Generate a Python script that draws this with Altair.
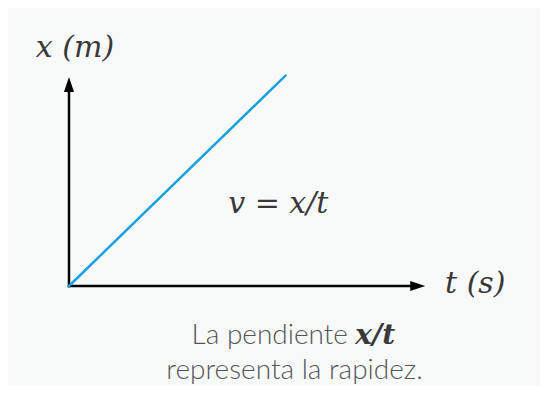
import altair as alt
import pandas as pd

# ---- data (abstract diagram units) ----
line_t = [0.0, 6.0]
line_x = [0.0, 6.0]

axis_t = [0.0, 0.0]
axis_x = [0.0, 0.0]
axis_t2 = [0.0, 9.6]
axis_x2 = [5.7, 0.0]

arrow_up_t = [0.0]
arrow_up_x = [5.96]
arrow_right_t = [9.87]
arrow_right_x = [0.0]

label_text = ["x (m)", "v = x/t", "t (s)"]
label_t = [-0.92, 4.41, 10.42]
label_x = [6.53, 2.08, -0.2]

cap1a_text = ["La pendiente"]
cap1a_t = [7.73]
cap1a_x = [-1.66]
cap1b_text = ["x/t"]
cap1b_t = [7.93]
cap1b_x = [-1.66]
cap2_text = ["representa la rapidez."]
cap2_t = [6.25]
cap2_x = [-2.66]

T_DOMAIN = [-1.69, 13.05]
X_DOMAIN = [-2.85, 7.925]

MATH_FONT = "DejaVu Serif"
SANS_FONT = "Lato"

xs = alt.Scale(domain=T_DOMAIN, nice=False, zero=False)
ys = alt.Scale(domain=X_DOMAIN, nice=False, zero=False)


def X(f="t"):
    return alt.X(f"{f}:Q", scale=xs, axis=None)


def Y(f="x"):
    return alt.Y(f"{f}:Q", scale=ys, axis=None)


line_df = pd.DataFrame({"t": line_t, "x": line_x})
axes_df = pd.DataFrame({"t": axis_t, "x": axis_x, "t2": axis_t2, "x2": axis_x2})
up_df = pd.DataFrame({"t": arrow_up_t, "x": arrow_up_x})
right_df = pd.DataFrame({"t": arrow_right_t, "x": arrow_right_x})
lab_df = pd.DataFrame({"t": label_t, "x": label_x, "label": label_text})
c1a_df = pd.DataFrame({"t": cap1a_t, "x": cap1a_x, "label": cap1a_text})
c1b_df = pd.DataFrame({"t": cap1b_t, "x": cap1b_x, "label": cap1b_text})
c2_df = pd.DataFrame({"t": cap2_t, "x": cap2_x, "label": cap2_text})

axes = alt.Chart(axes_df).mark_rule(color="#000000", strokeWidth=2.5, strokeCap="square").encode(
    x=X(), y=Y(), x2="t2:Q", y2="x2:Q"
)

up_path = "M0,0 L-0.67,2 L0.67,2 Z"
right_path = "M0,0 L-2,-0.67 L-2,0.67 Z"

arrow_up = alt.Chart(up_df).mark_point(
    shape=up_path, filled=True, size=225, color="#000000", opacity=1, strokeWidth=0
).encode(x=X(), y=Y())
arrow_right = alt.Chart(right_df).mark_point(
    shape=right_path, filled=True, size=225, color="#000000", opacity=1, strokeWidth=0
).encode(x=X(), y=Y())

line = alt.Chart(line_df).mark_line(color="#1aa0df", strokeWidth=2.5, strokeCap="round").encode(
    x=X(), y=Y()
)

labels = alt.Chart(lab_df).mark_text(
    font=MATH_FONT, fontStyle="italic", fontSize=30, color="#383838",
    align="left", baseline="alphabetic"
).encode(x=X(), y=Y(), text="label:N")

cap1a = alt.Chart(c1a_df).mark_text(
    font=SANS_FONT, fontWeight=300, fontSize=28, color="#555555",
    align="right", baseline="alphabetic"
).encode(x=X(), y=Y(), text="label:N")

cap1b = alt.Chart(c1b_df).mark_text(
    font=MATH_FONT, fontStyle="italic", fontWeight="bold", fontSize=28, color="#3a3a3a",
    align="left", baseline="alphabetic"
).encode(x=X(), y=Y(), text="label:N")

cap2 = alt.Chart(c2_df).mark_text(
    font=SANS_FONT, fontWeight=300, fontSize=28, color="#555555",
    align="center", baseline="alphabetic"
).encode(x=X(), y=Y(), text="label:N")

chart = alt.layer(axes, line, arrow_up, arrow_right, labels, cap1a, cap1b, cap2).properties(
    width=532, height=378, background="#f8fafa", padding=0, autosize="none"
).configure_view(stroke=None)

chart.save("out.html", embed_options={"renderer": "svg", "actions": False})
